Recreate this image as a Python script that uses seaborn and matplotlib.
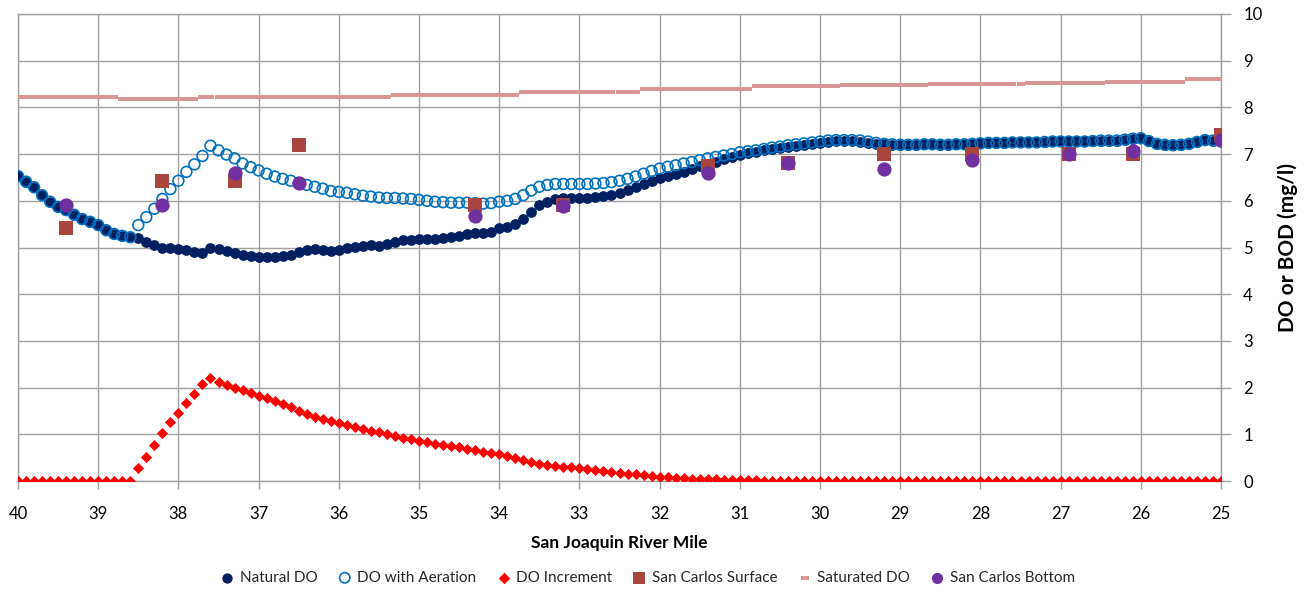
import numpy as np
import matplotlib
matplotlib.use("Agg")
import matplotlib.pyplot as plt
import seaborn as sns

# River mile, every 0.1 mile from 40 down to 25 (151 stations)
river_mile = np.round(np.linspace(40, 25, 151), 1)

# values, 10 stations per row (40.0-39.1, 39.0-38.1, ...)
natural_do = [
    6.53, 6.41, 6.29, 6.12, 5.98, 5.87, 5.80, 5.70, 5.61, 5.55,
    5.48, 5.37, 5.29, 5.25, 5.22, 5.20, 5.12, 5.05, 5.00, 4.99,
    4.97, 4.95, 4.91, 4.88, 4.98, 4.97, 4.93, 4.89, 4.85, 4.82,
    4.79, 4.79, 4.80, 4.82, 4.84, 4.91, 4.94, 4.96, 4.95, 4.93,
    4.94, 4.99, 5.01, 5.03, 5.05, 5.04, 5.07, 5.12, 5.15, 5.17,
    5.18, 5.18, 5.18, 5.20, 5.22, 5.25, 5.28, 5.30, 5.32, 5.34,
    5.41, 5.44, 5.50, 5.62, 5.77, 5.91, 5.98, 6.03, 6.05, 6.06,
    6.06, 6.07, 6.09, 6.11, 6.13, 6.17, 6.23, 6.29, 6.36, 6.43,
    6.48, 6.53, 6.57, 6.62, 6.68, 6.74, 6.79, 6.84, 6.89, 6.94,
    6.98, 7.02, 7.05, 7.08, 7.11, 7.13, 7.16, 7.18, 7.20, 7.22,
    7.24, 7.26, 7.27, 7.27, 7.27, 7.26, 7.24, 7.22, 7.21, 7.20,
    7.20, 7.20, 7.20, 7.21, 7.21, 7.20, 7.20, 7.21, 7.21, 7.22,
    7.23, 7.24, 7.24, 7.24, 7.25, 7.25, 7.25, 7.25, 7.26, 7.27,
    7.27, 7.27, 7.27, 7.27, 7.28, 7.29, 7.29, 7.29, 7.31, 7.33,
    7.34, 7.28, 7.22, 7.20, 7.19, 7.20, 7.22, 7.26, 7.30, 7.29,
    7.27,
]

do_aeration = [
    6.53, 6.41, 6.29, 6.12, 5.98, 5.87, 5.80, 5.70, 5.61, 5.55,
    5.48, 5.37, 5.29, 5.25, 5.22, 5.48, 5.65, 5.83, 6.04, 6.25,
    6.43, 6.62, 6.78, 6.96, 7.18, 7.08, 6.99, 6.91, 6.80, 6.72,
    6.65, 6.58, 6.52, 6.47, 6.43, 6.38, 6.34, 6.30, 6.26, 6.21,
    6.19, 6.17, 6.14, 6.11, 6.09, 6.07, 6.06, 6.06, 6.05, 6.04,
    6.02, 6.00, 5.98, 5.97, 5.96, 5.96, 5.96, 5.95, 5.94, 5.95,
    5.98, 6.00, 6.04, 6.12, 6.22, 6.30, 6.34, 6.36, 6.36, 6.36,
    6.36, 6.36, 6.37, 6.38, 6.40, 6.43, 6.47, 6.52, 6.58, 6.64,
    6.69, 6.73, 6.76, 6.80, 6.83, 6.87, 6.91, 6.94, 6.97, 7.00,
    7.04, 7.06, 7.08, 7.11, 7.14, 7.16, 7.19, 7.21, 7.23, 7.25,
    7.27, 7.29, 7.30, 7.30, 7.30, 7.29, 7.27, 7.24, 7.22, 7.21,
    7.20, 7.20, 7.20, 7.21, 7.21, 7.20, 7.20, 7.21, 7.21, 7.22,
    7.23, 7.24, 7.24, 7.24, 7.25, 7.25, 7.25, 7.25, 7.26, 7.27,
    7.27, 7.27, 7.27, 7.27, 7.28, 7.29, 7.29, 7.29, 7.31, 7.33,
    7.34, 7.28, 7.22, 7.20, 7.19, 7.20, 7.22, 7.26, 7.30, 7.29,
    7.27,
]

do_increment = [
    0, 0, 0, 0, 0, 0, 0, 0, 0, 0,
    0, 0, 0, 0, 0, 0.27, 0.52, 0.77, 1.02, 1.26,
    1.46, 1.67, 1.86, 2.07, 2.21, 2.12, 2.06, 2.00, 1.94, 1.89,
    1.82, 1.77, 1.71, 1.65, 1.59, 1.49, 1.43, 1.38, 1.33, 1.29,
    1.24, 1.19, 1.15, 1.11, 1.07, 1.05, 1.01, 0.97, 0.93, 0.90,
    0.86, 0.83, 0.80, 0.78, 0.75, 0.72, 0.69, 0.66, 0.63, 0.60,
    0.57, 0.53, 0.49, 0.45, 0.41, 0.37, 0.35, 0.33, 0.31, 0.30,
    0.28, 0.26, 0.24, 0.22, 0.20, 0.18, 0.16, 0.14, 0.12, 0.11,
    0.09, 0.08, 0.07, 0.06, 0.05, 0.05, 0.04, 0.04, 0.03, 0.03,
    0.02, 0.02, 0.02, 0.01, 0.01, 0.01, 0.01, 0.01, 0.01, 0.01,
    0, 0, 0, 0, 0, 0, 0, 0, 0, 0,
    0, 0, 0, 0, 0, 0, 0, 0, 0, 0,
    0, 0, 0, 0, 0, 0, 0, 0, 0, 0,
    0, 0, 0, 0, 0, 0, 0, 0, 0, 0,
    0, 0, 0, 0, 0, 0, 0, 0, 0, 0,
    0,
]

saturated_do = [
    8.22, 8.22, 8.22, 8.22, 8.22, 8.22, 8.22, 8.22, 8.22, 8.22,
    8.22, 8.22, 8.22, 8.19, 8.19, 8.19, 8.19, 8.19, 8.19, 8.19,
    8.19, 8.19, 8.19, 8.22, 8.22, 8.22, 8.22, 8.22, 8.22, 8.22,
    8.22, 8.22, 8.22, 8.22, 8.22, 8.22, 8.22, 8.22, 8.22, 8.22,
    8.22, 8.22, 8.22, 8.22, 8.22, 8.22, 8.22, 8.26, 8.26, 8.26,
    8.26, 8.26, 8.26, 8.26, 8.26, 8.26, 8.26, 8.26, 8.26, 8.26,
    8.26, 8.26, 8.26, 8.32, 8.32, 8.32, 8.32, 8.32, 8.32, 8.32,
    8.32, 8.32, 8.32, 8.32, 8.32, 8.32, 8.32, 8.32, 8.40, 8.40,
    8.40, 8.40, 8.40, 8.40, 8.40, 8.40, 8.40, 8.40, 8.40, 8.40,
    8.40, 8.40, 8.45, 8.45, 8.45, 8.45, 8.45, 8.45, 8.45, 8.45,
    8.45, 8.45, 8.45, 8.48, 8.48, 8.48, 8.48, 8.48, 8.48, 8.48,
    8.48, 8.48, 8.48, 8.48, 8.51, 8.51, 8.51, 8.51, 8.51, 8.51,
    8.51, 8.51, 8.51, 8.51, 8.51, 8.51, 8.52, 8.52, 8.52, 8.52,
    8.52, 8.52, 8.52, 8.52, 8.52, 8.52, 8.55, 8.55, 8.55, 8.55,
    8.55, 8.55, 8.55, 8.55, 8.55, 8.55, 8.60, 8.60, 8.60, 8.60,
    8.60,
]

# San Carlos grab samples (surface and bottom at the same stations)
sc_mile = [39.4, 38.2, 37.3, 36.5, 34.3, 33.2, 31.4, 30.4, 29.2, 28.1, 26.9, 26.1, 25.0]
sc_surface = [5.42, 6.42, 6.42, 7.20, 5.90, 5.90, 6.74, 6.80, 7.00, 7.00, 7.00, 7.00, 7.40]
sc_bottom = [5.91, 5.91, 6.60, 6.39, 5.68, 5.89, 6.60, 6.80, 6.68, 6.88, 7.00, 7.07, 7.30]

sns.set_theme(style="white")
plt.rcParams['font.family'] = ['Lato', 'DejaVu Sans']

grid_gray = '#a0a0a0'

fig = plt.figure(figsize=(13.1, 5.89), dpi=100)
ax = fig.add_axes([18 / 1310, 1 - 481 / 589, 1203 / 1310, 467 / 589])

sns.scatterplot(x=river_mile, y=natural_do, ax=ax, marker='o', s=60, color='#002060',
                linewidth=0, label='Natural DO', zorder=3)
sns.scatterplot(x=river_mile, y=do_aeration, ax=ax, marker='o', s=60, facecolor='none',
                edgecolor='#0070C0', linewidth=1.2, label='DO with Aeration', zorder=4)
sns.scatterplot(x=river_mile, y=do_increment, ax=ax, marker='D', s=32, color='#FF0000',
                linewidth=0, label='DO Increment', zorder=3)
sns.scatterplot(x=sc_mile, y=sc_surface, ax=ax, marker='s', s=105, color='#A9443F',
                linewidth=0, label='San Carlos Surface', zorder=5)
dash = [(-1, -0.5), (1, -0.5), (1, 0.5), (-1, 0.5)]
sns.scatterplot(x=river_mile, y=saturated_do, ax=ax, marker=dash, s=28, color='#D99694',
                linewidth=0, label='Saturated DO', zorder=3)
sns.scatterplot(x=sc_mile, y=sc_bottom, ax=ax, marker='o', s=105, color='#7030A0',
                linewidth=0, label='San Carlos Bottom', zorder=6)

ax.set_xlim(40, 25)
ax.set_ylim(0, 10)
ax.set_xticks(range(25, 41))
ax.set_yticks(range(0, 11))
ax.set_axisbelow(True)
ax.grid(True, color=grid_gray, linewidth=1.0)
for sp in ax.spines.values():
    sp.set_color(grid_gray)
    sp.set_linewidth(1.0)

ax.yaxis.tick_right()
ax.yaxis.set_label_position('right')
ax.tick_params(axis='x', direction='out', length=6, width=1, color=grid_gray, pad=12,
               labelsize=12, labelcolor='#000000', bottom=True)
ax.tick_params(axis='y', direction='out', length=7, width=1, color=grid_gray, pad=9,
               labelsize=12, labelcolor='#000000', left=False, right=True,
               labelleft=False, labelright=True)

ax.set_xlabel('San Joaquin River Mile', fontsize=12.5, fontweight='bold', color='#000000')
ax.xaxis.set_label_coords(0.5, -0.116)
ax.set_ylabel('DO or BOD (mg/l)', fontsize=15, fontweight='bold', color='#000000')
ax.yaxis.set_label_coords(1.047, 0.5)

leg = ax.legend(loc='center', bbox_to_anchor=(0.494, 0.019), bbox_transform=fig.transFigure,
                ncol=6, frameon=False, fontsize=11, handlelength=1.0, handletextpad=0.3,
                columnspacing=1.3, borderaxespad=0)
for h, sz in zip(leg.legend_handles, [55, 55, 35, 80, 30, 65]):
    h.set_sizes([sz])

plt.savefig('out.png', dpi=100)
plt.close()
